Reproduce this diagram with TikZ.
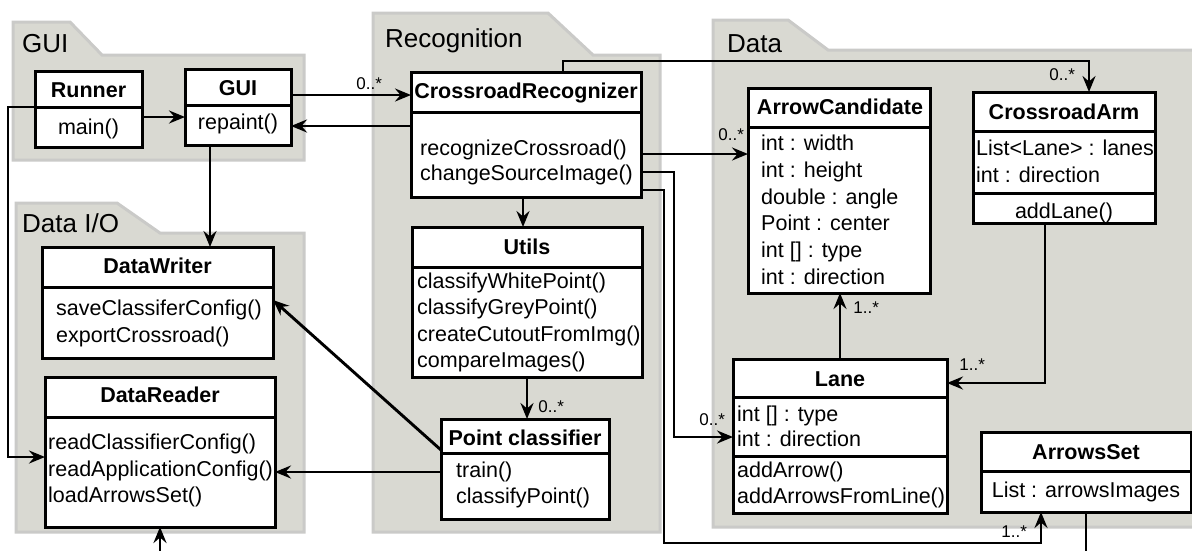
\documentclass[tikz,border=0pt]{standalone}
\usepackage{fontspec}
\setmainfont{Liberation Sans}
\usetikzlibrary{arrows.meta,calc}
\definecolor{pkgfill}{RGB}{217,217,210}
\definecolor{pkgedge}{RGB}{202,202,200}
\tikzset{
  pkg/.style={fill=pkgfill, draw=pkgedge, line width=3pt, line join=miter},
  pkgname/.style={anchor=base west, inner sep=0pt, font=\fontsize{26}{30}\selectfont},
  cls/.style={draw=black, fill=white, line width=3pt, anchor=north west, inner sep=0pt, outer sep=0pt},
  sep/.style={line width=3pt},
  ttl/.style={anchor=base, inner sep=0pt, font=\bfseries\fontsize{21.5}{25}\selectfont},
  row/.style={anchor=base west, inner sep=0pt, font=\fontsize{21.5}{25}\selectfont},
  crow/.style={anchor=base, inner sep=0pt, font=\fontsize{21.5}{25}\selectfont},
  wire/.style={line width=2.9pt},
  conn/.style={wire, -{Stealth[length=16pt,width=13pt,inset=5.5pt]}},
  mult/.style={anchor=base west, inner sep=0pt, font=\fontsize{17}{20}\selectfont},
}
\begin{document}
\begin{tikzpicture}[x=1pt,y=-1pt]
\useasboundingbox (0,0) rectangle (1192,550);

% packages
\path[pkg] (13,22) -- (70,22) -- (102,55) -- (304,55) -- (304,160) -- (13,160) -- cycle;
\node[pkgname] (pkg-gui) at (22,52) {GUI};
\path[pkg] (16,203) -- (117,203) -- (160,233) -- (304,233) -- (304,532) -- (16,532) -- cycle;
\node[pkgname] (pkg-io) at (22,232) {Data I/O};
\path[pkg] (373,13) -- (548,13) -- (593,55) -- (660,55) -- (660,532) -- (373,532) -- cycle;
\node[pkgname] (pkg-rec) at (385,47) {Recognition};
\path[pkg] (713,20) -- (788,20) -- (828,50) -- (1205,50) -- (1205,527) -- (713,527) -- cycle;
\node[pkgname] (pkg-data) at (727,52) {Data};

% Runner
\node[cls, minimum width=107pt, minimum height=76pt] (runner) at (35,71) {};
\draw[sep] (runner.west |- 0,107) -- (runner.east |- 0,107);
\node[ttl] (runner-t) at (88.5,97) {Runner};
\node[crow] (runner-1) at (88.5,134) {main()};

% GUI
\node[cls, minimum width=106pt, minimum height=76pt] (gui) at (185,69) {};
\draw[sep] (gui.west |- 0,105) -- (gui.east |- 0,105);
\node[ttl] (gui-t) at (238,95) {GUI};
\node[crow] (gui-1) at (238,129) {repaint()};

% CrossroadRecognizer
\node[cls, minimum width=230pt, minimum height=125pt] (crr) at (411,72) {};
\draw[sep] (crr.west |- 0,112) -- (crr.east |- 0,112);
\node[ttl] (crr-t) at (526,98) {CrossroadRecognizer};
\node[row] (crr-1) at (420,155) {recognizeCrossroad()};
\node[row] (crr-2) at (420,180) {changeSourceImage()};

% Utils
\node[cls, minimum width=230pt, minimum height=150pt] (utils) at (412,227) {};
\draw[sep] (utils.west |- 0,267) -- (utils.east |- 0,267);
\node[ttl] (utils-t) at (527,254) {Utils};
\node[row] (utils-1) at (417,288) {classifyWhitePoint()};
\node[row] (utils-2) at (417,314) {classifyGreyPoint()};
\node[row] (utils-3) at (417,341) {createCutoutFromImg()};
\node[row] (utils-4) at (417,367) {compareImages()};

% Point classifier
\node[cls, minimum width=168pt, minimum height=100pt] (pc) at (441,419) {};
\draw[sep] (pc.west |- 0,453) -- (pc.east |- 0,453);
\node[ttl] (pc-t) at (525,445) {Point classifier};
\node[row] (pc-1) at (456,477) {train()};
\node[row] (pc-2) at (456,503) {classifyPoint()};

% DataWriter
\node[cls, minimum width=231pt, minimum height=111pt] (dw) at (42,247) {};
\draw[sep] (dw.west |- 0,287) -- (dw.east |- 0,287);
\node[ttl] (dw-t) at (157.5,273) {DataWriter};
\node[row] (dw-1) at (56,315) {saveClassiferConfig()};
\node[row] (dw-2) at (56,342) {exportCrossroad()};

% DataReader
\node[cls, minimum width=230pt, minimum height=150pt] (dr) at (45,377) {};
\draw[sep] (dr.west |- 0,417) -- (dr.east |- 0,417);
\node[ttl] (dr-t) at (160,402) {DataReader};
\node[row] (dr-1) at (48,449) {readClassifierConfig()};
\node[row] (dr-2) at (48,476) {readApplicationConfig()};
\node[row] (dr-3) at (48,502) {loadArrowsSet()};

% ArrowCandidate
\node[cls, minimum width=182pt, minimum height=205pt] (ac) at (748,88) {};
\draw[sep] (ac.west |- 0,127) -- (ac.east |- 0,127);
\node[ttl] (ac-t) at (840,114) {ArrowCandidate};
\node[row] (ac-1) at (761,150) {int : width};
\node[row] (ac-2) at (761,177) {int : height};
\node[row] (ac-3) at (761,204) {double : angle};
\node[row] (ac-4) at (761,230) {Point : center};
\node[row] (ac-5) at (761,257) {int [] : type};
\node[row] (ac-6) at (761,284) {int : direction};

% CrossroadArm
\node[cls, minimum width=182pt, minimum height=131pt] (arm) at (973,92) {};
\draw[sep] (arm.west |- 0,131) -- (arm.east |- 0,131);
\draw[sep] (arm.west |- 0,193) -- (arm.east |- 0,193);
\node[ttl] (arm-t) at (1064,119) {CrossroadArm};
\node[row] (arm-1) at (976,155) {List<Lane> : lanes};
\node[row] (arm-2) at (976,182) {int : direction};
\node[crow] (arm-3) at (1064,218) {addLane()};

% Lane
\node[cls, minimum width=214pt, minimum height=154pt] (lane) at (733,359) {};
\draw[sep] (lane.west |- 0,397) -- (lane.east |- 0,397);
\draw[sep] (lane.west |- 0,456) -- (lane.east |- 0,456);
\node[ttl] (lane-t) at (840,386) {Lane};
\node[row] (lane-1) at (737,421) {int [] : type};
\node[row] (lane-2) at (737,446) {int : direction};
\node[row] (lane-3) at (737,477) {addArrow()};
\node[row] (lane-4) at (737,503) {addArrowsFromLine()};

% ArrowsSet
\node[cls, minimum width=210pt, minimum height=80pt] (as) at (981,432) {};
\draw[sep] (as.west |- 0,471) -- (as.east |- 0,471);
\node[ttl] (as-t) at (1086,459) {ArrowsSet};
\node[crow] (as-1) at (1086,497) {List : arrowsImages};

% loose ends at the lower border
\coordinate (drfeed) at (160,552);
\coordinate (asout) at (1086,552);

% associations
\draw[conn] ([yshift=-8pt]runner.east) -- ([yshift=-8pt]runner.east -| gui.west);
\draw[conn] ([yshift=12pt]gui.east) -- ([yshift=12pt]gui.east -| crr.west)
  node[mult] (m1) at (355,89) {0..*};
\draw[conn] ([yshift=8.5pt]crr.west) -- ([yshift=8.5pt]crr.west -| gui.east);
\draw[conn] ([yshift=2pt]runner.west) -- ++(-27,0) |- ([yshift=-5pt]dr.west);
\draw[conn] ([xshift=-28pt]gui.south) -- ([xshift=-28pt]gui.south |- dw.north);
\draw[conn] ([yshift=19pt]pc.west) -- ([yshift=2.5pt]dw.east);
\draw[conn] ([yshift=-3pt]pc.west) -- ([yshift=-3pt]pc.west -| dr.east);
\draw[conn] (drfeed) -- (drfeed |- dr.south);
\draw[conn] ([xshift=-3pt]crr.south) -- ([xshift=-3pt]crr.south |- utils.north);
\draw[conn] (utils.south) -- (utils.south |- pc.north)
  node[mult] (m2) at (537,412) {0..*};
\draw[conn] ([xshift=37pt]crr.north) -- ++(0,-11) -| ([xshift=25pt]arm.north)
  node[mult] (m3) at (1048,80) {0..*};
\draw[conn] ([yshift=-19.5pt]crr.east) -- ([yshift=-19.5pt]crr.east -| ac.west)
  node[mult] (m4) at (717,140) {0..*};
\draw[conn] ([yshift=-37.5pt]crr.east) -- ++(33,0) |- ([yshift=-1pt]lane.west)
  node[mult] (m5) at (698,425) {0..*};
\draw[conn] ([yshift=-55.5pt]crr.east) -- ++(23,0) -- ++(0,353) -| ([xshift=-45pt]as.south)
  node[mult] (m6) at (1000,537) {1..*};
\draw[conn] ([xshift=-19pt]arm.south) |- ([yshift=53pt]lane.east)
  node[mult] (m7) at (958,370) {1..*};
\draw[conn] (lane.north) -- (lane.north |- ac.south)
  node[mult] (m8) at (852,313) {1..*};
\draw[wire] (as.south) -- (asout);
\end{tikzpicture}
\end{document}
